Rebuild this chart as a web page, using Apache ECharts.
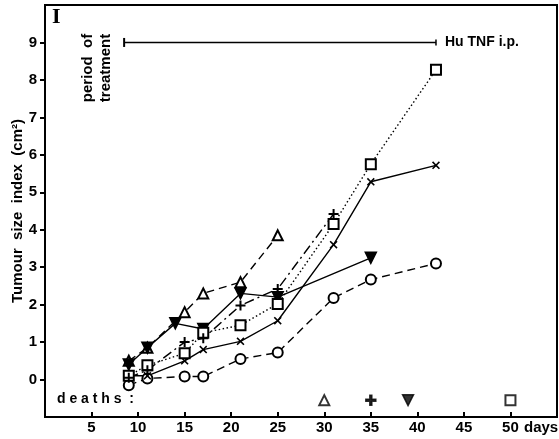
<!DOCTYPE html>
<html>
<head>
<meta charset="utf-8">
<script src="https://cdn.jsdelivr.net/npm/echarts@6/dist/echarts.min.js"></script>
<style>
  html, body { margin: 0; padding: 0; background: #fff; }
  #chart { width: 559px; height: 439px; }
</style>
</head>
<body>
<div id="chart"></div>
<script>
// days after tumour inoculation
const days = [9, 11, 15, 17, 21, 25, 31, 35, 42];
const downTriDays = [9, 11, 14, 17, 21, 25, 35];

// tumour size index (cm2) per group
const openTriangle = [0.5, 0.85, 1.8, 2.3, 2.6, 3.85];
const downTriangle = [0.4, 0.85, 1.5, 1.35, 2.3, 2.2, 3.25];
const circle = [-0.15, 0.03, 0.08, 0.08, 0.55, 0.72, 2.18, 2.67, 3.1];
const cross = [0.1, 0.1, 0.5, 0.8, 1.02, 1.57, 3.6, 5.28, 5.72];
const square = [0.1, 0.38, 0.7, 1.25, 1.45, 2.02, 4.15, 5.75, 8.27];
const plus = [0.05, 0.25, 1.0, 1.1, 1.98, 2.42, 4.42];

// deaths row and treatment period
const deathDays = [30, 35, 39, 50];
const deathLevel = -0.55;
const treatmentDays = [8.5, 42];
const treatmentLevel = 9;

const xTicks = [5, 10, 15, 20, 25, 30, 35, 40, 45, 50];
const yTicks = [0, 1, 2, 3, 4, 5, 6, 7, 8, 9];

const FONT = '"Liberation Sans Narrow", "Liberation Sans", Arial, sans-serif';
const PLUS = 'path://M4,0H6V4H10V6H6V10H4V6H0V4H4Z';
const CROSS = 'path://M0,1.4L1.4,0L5,3.6L8.6,0L10,1.4L6.4,5L10,8.6L8.6,10L5,6.4L1.4,10L0,8.6L3.6,5Z';

function pairs(xs, ys) {
  return ys.map((y, i) => [xs[i], y]);
}

function group(xs, ys, symbol, size, dash, extra) {
  return Object.assign({
    type: 'line',
    data: pairs(xs, ys),
    symbol: symbol,
    symbolSize: size,
    showSymbol: true,
    lineStyle: { color: '#000', width: 1.4, type: dash },
    itemStyle: { color: '#000', borderColor: '#000', borderWidth: 1.5 },
    z: 3
  }, extra || {});
}

let chart = echarts.init(document.getElementById('chart'));

let option = {
  animation: false,
  backgroundColor: '#fff',
  grid: {
    left: 45, right: 2, top: 5, bottom: 22,
    outerBoundsMode: 'none',
    containLabel: false,
    show: true, borderColor: '#000', borderWidth: 2
  },
  xAxis: {
    type: 'value',
    min: 0, max: 55, interval: 5,
    splitLine: { show: false },
    axisLine: { onZero: false, lineStyle: { color: '#000', width: 2 } },
    axisTick: { inside: true, length: 5, customValues: xTicks, lineStyle: { color: '#000', width: 2 } },
    axisLabel: {
      color: '#000', fontFamily: FONT, fontWeight: 'bold', fontSize: 15, margin: 3,
      customValues: xTicks
    }
  },
  yAxis: {
    type: 'value',
    min: -1, max: 10, interval: 1,
    name: 'Tumour  size  index  (cm²)',
    nameLocation: 'middle',
    nameGap: 20,
    nameMoveOverlap: false,
    nameRotate: 90,
    nameTextStyle: { color: '#000', fontFamily: FONT, fontWeight: 'bold', fontSize: 15 },
    splitLine: { show: false },
    axisLine: { onZero: false, lineStyle: { color: '#000', width: 2 } },
    axisTick: { length: 5, customValues: yTicks, lineStyle: { color: '#000', width: 2 } },
    axisLabel: {
      color: '#000', fontFamily: FONT, fontWeight: 'bold', fontSize: 15, margin: 8,
      customValues: yTicks
    }
  },
  series: [
    // period of treatment bar
    {
      type: 'line',
      data: [
        { value: [treatmentDays[0], treatmentLevel], symbol: 'rect', symbolSize: [2, 9] },
        { value: [treatmentDays[1], treatmentLevel], symbol: 'rect', symbolSize: [1.5, 6] }
      ],
      lineStyle: { color: '#000', width: 1.6 },
      itemStyle: { color: '#000' },
      z: 2
    },
    group(days.slice(0, 6), openTriangle, 'emptyTriangle', 10, [8, 5]),
    group(downTriDays, downTriangle, 'triangle', 11, 'solid', { symbolRotate: 180 }),
    group(days, circle, 'emptyCircle', 10, [8, 5]),
    group(days, cross, CROSS, 8, 'solid', { itemStyle: { color: '#000', borderWidth: 0 } }),
    group(days, square, 'emptyRect', 10, [1.5, 2.5]),
    group(days.slice(0, 7), plus, PLUS, 10, [10, 4, 2, 4], { itemStyle: { color: '#000', borderWidth: 0 } }),
    // deaths row
    {
      type: 'scatter',
      data: [
        { value: [deathDays[0], deathLevel], symbol: 'emptyTriangle', symbolSize: 10 },
        { value: [deathDays[1], deathLevel], symbol: PLUS, symbolSize: 10 },
        { value: [deathDays[2], deathLevel], symbol: 'triangle', symbolSize: 11, symbolRotate: 180 },
        { value: [deathDays[3], deathLevel], symbol: 'emptyRect', symbolSize: 10 }
      ],
      itemStyle: { color: '#000', borderColor: '#000', borderWidth: 1.5 },
      z: 3
    }
  ],
  graphic: [
    { type: 'text', left: 52, top: 6,
      style: { text: 'I', fill: '#000', font: 'bold 22px "Liberation Serif", serif' } },
    { type: 'text', x: 88, y: 68, rotation: Math.PI / 2,
      style: { text: 'period  of', fill: '#000', font: 'bold 15px ' + FONT, align: 'center', verticalAlign: 'middle' } },
    { type: 'text', x: 106, y: 68, rotation: Math.PI / 2,
      style: { text: 'treatment', fill: '#000', font: 'bold 15px ' + FONT, align: 'center', verticalAlign: 'middle' } },
    { type: 'text', left: 445, top: 35,
      style: { text: 'Hu TNF i.p.', fill: '#000', font: 'bold 14px ' + FONT } },
    { type: 'text', left: 57, top: 392,
      style: { text: 'd e a t h s  :', fill: '#000', font: 'bold 14px ' + FONT } },
    { type: 'text', left: 524, top: 420,
      style: { text: 'days', fill: '#000', font: 'bold 15px ' + FONT } }
  ]
};

chart.setOption(option);
</script>
</body>
</html>
